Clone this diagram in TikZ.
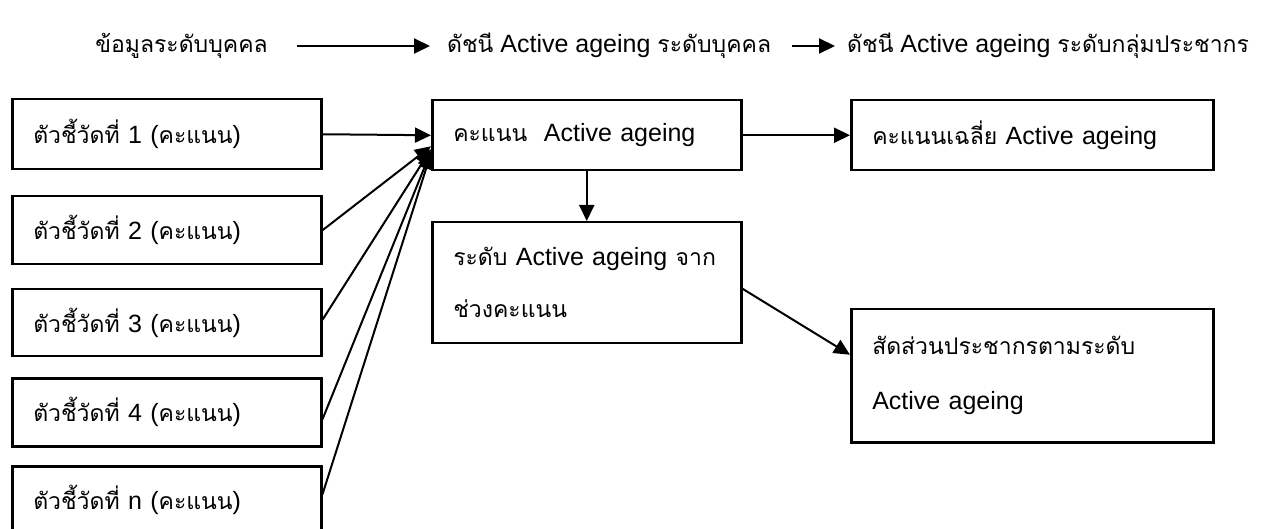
\documentclass[tikz,border=0pt]{standalone}
\usepackage{fontspec}
\setmainfont{Liberation Sans}
\newfontfamily\thaifont[Script=Thai,Scale=0.92]{Loma}
\usetikzlibrary{arrows.meta}
\newcommand\tht[1]{{\thaifont #1}}
\begin{document}
\begin{tikzpicture}[x=1pt,y=-1pt,
 box/.style={draw,line width=2.5pt,anchor=north west,inner xsep=21pt,inner ysep=0pt,align=left,text width=#1,font=\fontsize{25}{52}\selectfont},
 box/.default=267,
 hdr/.style={inner sep=0pt,font=\fontsize{25}{30}\selectfont},
 arr/.style={line width=2pt,-{Triangle[length=16pt,width=15pt]}}]
\useasboundingbox (0,0) rectangle (1272,529);
\clip (0,0) rectangle (1272,529);
% header
\node[hdr,anchor=east] (h1) at (268,46) {\tht{ข้อมูลระดับบุคคล}};
\node[hdr,anchor=west] (h2) at (447,46) {\tht{ดัชนี} Active ageing \tht{ระดับบุคคล}};
\node[hdr,anchor=west] (h3) at (847,46) {\tht{ดัชนี} Active ageing \tht{ระดับกลุ่มประชากร}};
\draw[arr] ([xshift=29pt]h1.east) -- ([xshift=-17pt]h2.west);
\draw[arr] ([xshift=-55pt]h3.west) -- ([xshift=-12pt]h3.west);
% left boxes
\node[box,minimum height=70] (b1) at (11,98) {\tht{ตัวชี้วัดที่} 1 (\tht{คะแนน})};
\node[box,minimum height=68] (b2) at (11,195) {\tht{ตัวชี้วัดที่} 2 (\tht{คะแนน})};
\node[box,minimum height=67] (b3) at (11,288) {\tht{ตัวชี้วัดที่} 3 (\tht{คะแนน})};
\node[box,minimum height=68] (b4) at (11,377) {\tht{ตัวชี้วัดที่} 4 (\tht{คะแนน})};
\node[box,minimum height=70] (bn) at (11,465) {\raisebox{7pt}{\tht{ตัวชี้วัดที่} n (\tht{คะแนน})}};
% middle boxes
\node[box,minimum height=70] (m1) at (431,99) {\tht{คะแนน}\ \ Active ageing};
\node[box,minimum height=121] (m2) at (431,221) {\mbox{\tht{ระดับ} Active ageing \tht{จาก}}\\\tht{ช่วงคะแนน}};
% right boxes
\node[box=320,minimum height=70] (r1) at (850,99) {\tht{คะแนนเฉลี่ย} Active ageing};
\node[box=320,minimum height=133,font=\fontsize{25}{55}\selectfont] (r2) at (850,308) {\tht{สัดส่วนประชากรตามระดับ}\\Active ageing};
% connectors
\draw[arr] (b1.east) -- (m1.west);
\draw[arr] (b2.east) -- ([yshift=-11pt]m1.west);
\draw[arr] ([yshift=3pt]b3.east) -- ([yshift=-14pt]m1.west);
\draw[arr] ([yshift=-7pt]b4.east) -- ([yshift=-16pt]m1.west);
\draw[arr] ([yshift=7pt]bn.east) -- ([yshift=-18pt]m1.west);
\draw[arr] (m1.east) -- (r1.west);
\draw[arr] (m1.south) -- (m2.north);
\draw[arr] ([yshift=-6pt]m2.east) -- ([yshift=21pt]r2.west);
\end{tikzpicture}
\end{document}
